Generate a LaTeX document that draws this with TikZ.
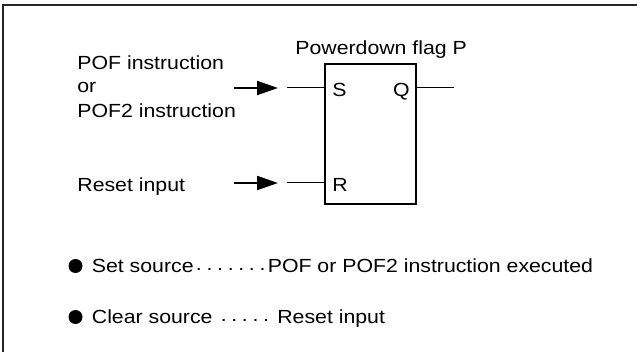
\documentclass[tikz,border=0pt]{standalone}
\usepackage{fontspec}
\setmainfont[FakeStretch=1.12]{Liberation Sans}
\usetikzlibrary{arrows.meta}

\newcommand{\dotrun}[1]{\foreach \k in {1,...,#1}{\makebox[5.3pt]{\raisebox{1pt}{.}}}}

\begin{document}
\begin{tikzpicture}[x=0.5pt, y=-0.5pt, font=\fontsize{9.5}{12}\selectfont,
    wire/.style={line width=0.5pt},
    inarrow/.style={line width=1pt, -{Triangle[length=10.5pt, width=7pt]}},
    flagbox/.style={draw, line width=1pt, minimum width=45.5pt, minimum height=70pt, inner sep=0pt},
    lbl/.style={inner sep=0pt},
    srcbullet/.style={circle, fill, inner sep=0pt, minimum size=7pt}]
                        \useasboundingbox (0, 0) rectangle (637, 352);
                        % Frame:
                        \draw[line width=1.2pt, black!85] (637, 5) -- (3, 5) -- (3, 352);
                        % Flag and its pins:
                        \node[flagbox] (flag) at (370.5, 134) {};
                        \node[lbl, anchor=base west] (title) at (295, 55) {Powerdown flag P};
                        \node[lbl, anchor=base west] (S) at (332, 97) {S};
                        \node[lbl, anchor=base east] (Q) at (410, 97) {Q};
                        \node[lbl, anchor=base west] (R) at (332, 192) {R};
                        \coordinate (sIn) at (287, 88);
                        \coordinate (rIn) at (287, 183);
                        \coordinate (qOut) at (454, 88);
                        \draw[wire] (sIn) -- (sIn -| flag.west);
                        \draw[wire] (rIn) -- (rIn -| flag.west);
                        \draw[wire] (flag.east |- qOut) -- (qOut);
                        % Inputs and arrows:
                        \node[lbl, anchor=base west] (pof) at (77, 70) {POF instruction};
                        \node[lbl, anchor=base west] (pofOr) at (77, 93) {or};
                        \node[lbl, anchor=base west] (pof2) at (77, 118) {POF2 instruction};
                        \node[lbl, anchor=base west] (reset) at (77, 192) {Reset input};
                        \coordinate (sTail) at (234, 88);
                        \coordinate (sTip) at (278, 88);
                        \coordinate (rTail) at (234, 183);
                        \coordinate (rTip) at (278, 183);
                        \draw[inarrow] (sTail) -- (sTip);
                        \draw[inarrow] (rTail) -- (rTip);
                        % Set and clear sources:
                        \node[srcbullet] (setDot) at (75.5, 266) {};
                        \node[lbl, anchor=base west] (setSrc) at (91.5, 272) {Set source\dotrun{7}POF or POF2 instruction executed};
                        \node[srcbullet] (clrDot) at (75.5, 317) {};
                        \node[lbl, anchor=base west] (clrSrc) at (91.5, 323) {Clear source \dotrun{5} Reset input};
                    \end{tikzpicture}
\end{document}
